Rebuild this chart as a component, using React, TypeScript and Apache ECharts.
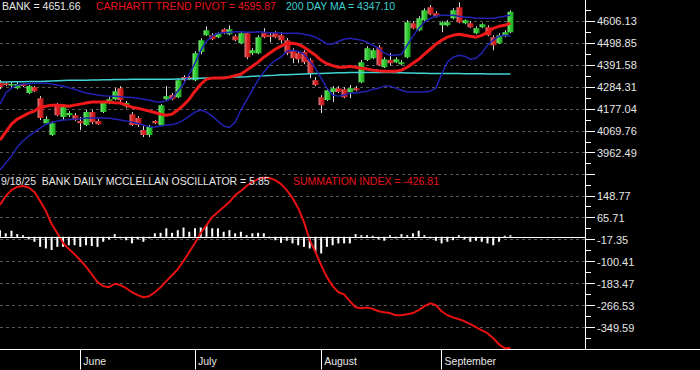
import React, { useEffect, useRef } from 'react';
import * as echarts from 'echarts';

const FONT = '"Liberation Sans", Arial, Helvetica, sans-serif';

// Trading days, 12 May 2025 - 18 Sep 2025
const DATES = [
  '5/12', '5/13', '5/14', '5/15', '5/16', '5/19', '5/20', '5/21', '5/22', '5/23', '5/27', '5/28', '5/29', '5/30',
  '6/2', '6/3', '6/4', '6/5', '6/6', '6/9', '6/10', '6/11', '6/12', '6/13', '6/16', '6/17', '6/18', '6/20', '6/23', '6/24', '6/25', '6/26', '6/27', '6/30',
  '7/1', '7/2', '7/3', '7/7', '7/8', '7/9', '7/10', '7/11', '7/14', '7/15', '7/16', '7/17', '7/18', '7/21', '7/22', '7/23', '7/24', '7/25', '7/28', '7/29', '7/30', '7/31',
  '8/1', '8/4', '8/5', '8/6', '8/7', '8/8', '8/11', '8/12', '8/13', '8/14', '8/15', '8/18', '8/19', '8/20', '8/21', '8/22', '8/25', '8/26', '8/27', '8/28', '8/29',
  '9/2', '9/3', '9/4', '9/5', '9/8', '9/9', '9/10', '9/11', '9/12', '9/15', '9/16', '9/17', '9/18',
];
const EMPTY_SLOTS = 13;
const MONTH_NAMES: Record<string, string> = { '5': 'May', '6': 'June', '7': 'July', '8': 'August', '9': 'September' };

const OPEN = [
  4307, 4302, 4293, 4278, 4298, 4254, 4283, 4229, 4107, 4049,
  4195, 4137, 4146, 4146, 4117, 4098, 4161, 4117, 4161, 4210,
  4224, 4278, 4190, 4151, 4132, 4073, 4049, 4117, 4098, 4224,
  4244, 4234, 4332, 4332, 4317, 4454, 4536, 4536, 4527, 4566,
  4541, 4532, 4497, 4546, 4449, 4449, 4546, 4536, 4546, 4536,
  4512, 4463, 4449, 4454, 4415, 4317, 4234, 4220, 4259, 4278,
  4273, 4259, 4278, 4307, 4415, 4424, 4478, 4380, 4415, 4405,
  4395, 4429, 4595, 4561, 4610, 4673, 4644, 4585, 4585, 4619,
  4673, 4595, 4595, 4546, 4575, 4575, 4527, 4497, 4532, 4551,
];
const CLOSE = [
  4283, 4293, 4298, 4298, 4288, 4288, 4263, 4132, 4127, 4107,
  4146, 4185, 4156, 4122, 4107, 4161, 4112, 4102, 4205, 4224,
  4263, 4219, 4205, 4098, 4098, 4049, 4088, 4107, 4195, 4239,
  4224, 4317, 4317, 4322, 4449, 4512, 4561, 4517, 4546, 4546,
  4566, 4512, 4546, 4429, 4463, 4527, 4527, 4532, 4527, 4512,
  4449, 4424, 4419, 4405, 4351, 4293, 4195, 4268, 4278, 4259,
  4234, 4278, 4268, 4405, 4473, 4463, 4390, 4419, 4400, 4419,
  4405, 4600, 4571, 4619, 4658, 4639, 4629, 4600, 4600, 4658,
  4600, 4610, 4575, 4571, 4590, 4536, 4488, 4536, 4551, 4651.66,
];
const LOW = [
  4273, 4288, 4278, 4273, 4283, 4249, 4259, 4122, 4102, 4044,
  4141, 4122, 4137, 4117, 4073, 4093, 4102, 4098, 4156, 4200,
  4219, 4210, 4180, 4093, 4088, 4039, 4039, 4102, 4093, 4219,
  4219, 4229, 4312, 4317, 4312, 4444, 4532, 4512, 4522, 4541,
  4536, 4507, 4493, 4419, 4439, 4444, 4522, 4502, 4522, 4497,
  4439, 4400, 4400, 4395, 4327, 4288, 4156, 4215, 4210, 4254,
  4229, 4229, 4263, 4302, 4410, 4419, 4385, 4376, 4390, 4400,
  4390, 4424, 4566, 4556, 4605, 4634, 4624, 4551, 4580, 4614,
  4595, 4590, 4571, 4541, 4571, 4532, 4463, 4493, 4527, 4546,
];
const HIGH = [
  4317, 4307, 4312, 4307, 4302, 4293, 4288, 4239, 4141, 4117,
  4205, 4195, 4166, 4156, 4137, 4171, 4171, 4127, 4215, 4234,
  4278, 4288, 4215, 4161, 4141, 4093, 4098, 4122, 4200, 4288,
  4254, 4327, 4341, 4336, 4458, 4522, 4580, 4546, 4551, 4571,
  4585, 4541, 4556, 4551, 4473, 4536, 4571, 4551, 4556, 4551,
  4522, 4473, 4458, 4463, 4424, 4332, 4244, 4278, 4288, 4288,
  4283, 4293, 4288, 4415, 4483, 4473, 4488, 4429, 4449, 4429,
  4415, 4610, 4605, 4629, 4668, 4683, 4653, 4605, 4610, 4668,
  4697, 4614, 4605, 4580, 4595, 4585, 4536, 4546, 4561, 4658,
];
const TREND_PIVOT = [
  4024, 4063, 4102, 4127, 4141, 4156, 4166, 4185, 4190, 4195,
  4195, 4193, 4190, 4195, 4200, 4205, 4210, 4210, 4210, 4210,
  4207, 4205, 4195, 4185, 4180, 4173, 4166, 4159, 4151, 4146,
  4151, 4171, 4195, 4224, 4263, 4297, 4322, 4327, 4327, 4327,
  4332, 4339, 4346, 4366, 4385, 4405, 4429, 4448, 4468, 4483,
  4495, 4497, 4492, 4478, 4458, 4439, 4414, 4397, 4388, 4380,
  4380, 4385, 4380, 4375, 4371, 4366, 4363, 4361, 4361, 4361,
  4366, 4380, 4400, 4419, 4444, 4468, 4492, 4512, 4527, 4536,
  4541, 4536, 4531, 4527, 4536, 4551, 4570, 4580, 4585, 4595.87,
];
const UPPER_BAND = [
  4200, 4254, 4278, 4293, 4298, 4300, 4302, 4302, 4302, 4298,
  4293, 4288, 4280, 4273, 4263, 4254, 4249, 4244, 4241, 4239,
  4239, 4236, 4234, 4232, 4229, 4224, 4220, 4212, 4210, 4215,
  4229, 4263, 4298, 4346, 4400, 4463, 4507, 4532, 4546, 4549,
  4551, 4553, 4553, 4551, 4551, 4553, 4551, 4549, 4549, 4546,
  4546, 4546, 4546, 4541, 4536, 4527, 4512, 4493, 4493, 4507,
  4517, 4522, 4517, 4512, 4502, 4488, 4473, 4449, 4439, 4439,
  4444, 4488, 4532, 4570, 4600, 4619, 4629, 4634, 4634, 4634,
  4629, 4624, 4624, 4619, 4619, 4619, 4619, 4624, 4629, 4634,
];
const LOWER_BAND = [
  3878, 3912, 3946, 3990, 4020, 4044, 4063, 4083, 4102, 4110,
  4117, 4122, 4124, 4127, 4129, 4132, 4132, 4133, 4132, 4131,
  4127, 4122, 4117, 4112, 4105, 4098, 4090, 4088, 4093, 4098,
  4100, 4107, 4122, 4141, 4161, 4171, 4161, 4141, 4117, 4093,
  4086, 4112, 4171, 4219, 4268, 4317, 4356, 4390, 4414, 4429,
  4458, 4463, 4458, 4444, 4410, 4375, 4327, 4278, 4244, 4239,
  4244, 4254, 4254, 4259, 4263, 4273, 4278, 4288, 4288, 4278,
  4268, 4259, 4259, 4259, 4259, 4263, 4278, 4346, 4405, 4429,
  4439, 4434, 4419, 4424, 4449, 4488, 4512, 4532, 4536, 4532,
];
const MA200 = [
  4308, 4308, 4309, 4309, 4309, 4310, 4310, 4311, 4312, 4313,
  4314, 4315, 4316, 4316, 4317, 4317, 4318, 4318, 4319, 4319,
  4320, 4320, 4320, 4321, 4321, 4321, 4322, 4322, 4322, 4322,
  4322, 4323, 4323, 4324, 4325, 4326, 4327, 4328, 4329, 4330,
  4331, 4332, 4333, 4334, 4336, 4337, 4338, 4340, 4341, 4343,
  4344, 4345, 4346, 4347, 4348, 4349, 4350, 4351, 4352, 4353,
  4353, 4354, 4354, 4355, 4355, 4355, 4355, 4354, 4354, 4353,
  4353, 4352, 4352, 4351, 4351, 4350, 4350, 4350, 4349, 4349,
  4349, 4348, 4348, 4348, 4348, 4347.5, 4347.4, 4347.3, 4347.2, 4347.1,
];
const OSCILLATOR = [
  25, 13, 23, 10, 6, -10, -19, -38, -44, -50,
  -38, -38, -32, -32, -38, -32, -35, -38, -19, -10,
  10, -6, -13, -25, -10, -19, -6, 13, 15, 32,
  15, 25, 35, 19, 32, 35, 44, 32, 32, 19,
  25, 13, 19, 6, 13, 15, 13, -6, -13, -23,
  -15, -25, -32, -38, -44, -57, -63, -38, -32, -25,
  -25, -25, 10, 6, 6, 4, -10, -15, 6, -6,
  10, 6, 13, 23, 6, -6, -15, -25, -19, -13,
  6, -10, -19, -15, -19, -25, -32, -19, 4, 5.85,
];
const SUMMATION = [
  114, 148, 170, 182, 186, 180, 163, 129, 91, 42,
  7, -30, -53, -72, -95, -119, -148, -178, -193, -197,
  -184, -189, -201, -216, -227, -235, -231, -216, -197, -174,
  -152, -129, -98, -64, -30, 8, 38, 68, 87, 106,
  125, 151, 167, 186, 201, 212, 218, 216, 208, 193,
  170, 140, 102, 49, -19, -64, -114, -159, -193, -216,
  -224, -250, -273, -277, -274, -279, -288, -292, -295, -303,
  -303, -299, -295, -284, -269, -258, -265, -288, -303, -311,
  -318, -326, -337, -348, -360, -371, -390, -413, -428, -426.81,
];

// Right-hand axis tick labels (bottom to top)
const TOP_TICK_LABELS = ['3962.49', '4069.76', '4177.04', '4284.31', '4391.58', '4498.85', '4606.13'];
const BOTTOM_TICK_LABELS = ['-349.59', '-266.53', '-183.47', '-100.41', '-17.35', '65.71', '148.77'];
const TOP_STEP = 107.2725;
const TOP_BASE = 3855.218;
const BOTTOM_STEP = 83.06;
const BOTTOM_BASE = -432.65;
const STEPS = 8;

const HEADERS = {
  bank: 'BANK = 4651.66',
  pivot: 'CARHARTT TREND PIVOT = 4595.87',
  ma: '200 DAY MA = 4347.10',
  osc: '9/18/25  BANK DAILY MCCLELLAN OSCILLATOR = 5.85',
  sum: 'SUMMATION INDEX = -426.81',
};

function buildOption() {
  const categories = DATES.concat(Array.from({ length: EMPTY_SLOTS }, (_, k) => `+${k + 1}`));
  const monthOf = (s: string) => s.split('/')[0];
  const isMonthStart = (idx: number) =>
    idx > 0 && idx < DATES.length && monthOf(DATES[idx]) !== monthOf(DATES[idx - 1]);

  const candleData = DATES.map((_, i) => [i, OPEN[i], CLOSE[i], LOW[i], HIGH[i]]);

  const greenFill = new echarts.graphic.LinearGradient(0, 0, 1, 0, [
    { offset: 0, color: '#7be87b' },
    { offset: 0.45, color: '#35cf35' },
    { offset: 1, color: '#1c9f1c' },
  ]);
  const redFill = new echarts.graphic.LinearGradient(0, 0, 1, 0, [
    { offset: 0, color: '#e07a80' },
    { offset: 0.45, color: '#dc2626' },
    { offset: 1, color: '#b81414' },
  ]);

  const axisText = { color: '#e6e6e6', fontSize: 11, fontFamily: FONT };
  const splitLine = { show: true, lineStyle: { color: '#585858', type: [3, 3] as any, width: 1 } };

  const visibleY = (gridIndex: number, step: number, labels: string[]) => ({
    type: 'value',
    gridIndex,
    position: 'right',
    min: 0,
    max: step * STEPS,
    interval: step,
    axisLine: { show: true, lineStyle: { color: '#ffffff', width: 1 } },
    axisTick: { show: true, length: 10, lineStyle: { color: '#ffffff', width: 1 } },
    minorTick: { show: true, splitNumber: 2, length: 6, lineStyle: { color: '#ffffff', width: 1 } },
    minorSplitLine: { show: false },
    axisLabel: {
      ...axisText,
      margin: 12,
      showMinLabel: true,
      showMaxLabel: true,
      formatter: (v: number) => {
        const k = Math.round(v / step);
        return k >= 1 && k <= labels.length ? labels[k - 1] : '';
      },
    },
    splitLine,
  });

  const titleStyle = (color: string) => ({
    color,
    fontSize: 10.5,
    fontWeight: 'normal' as const,
    fontFamily: FONT,
  });

  return {
    animation: false,
    backgroundColor: '#000000',
    title: [
      { text: HEADERS.bank, left: 2, top: 0, padding: 0, textStyle: titleStyle('#e8e8e8') },
      { text: HEADERS.pivot, left: 96, top: 0, padding: 0, textStyle: titleStyle('#e8141c') },
      { text: HEADERS.ma, left: 286, top: 0, padding: 0, textStyle: titleStyle('#3fd0d0') },
      { text: HEADERS.osc, left: 1, top: 175, padding: 0, textStyle: titleStyle('#e8e8e8') },
      { text: HEADERS.sum, left: 293, top: 175, padding: 0, textStyle: titleStyle('#e8141c') },
    ],
    grid: [
      { left: 0, right: 115, top: -1, height: 175.7, outerBoundsMode: 'none', containLabel: false },
      { left: 0, right: 115, top: 173.8, height: 175.7, outerBoundsMode: 'none', containLabel: false },
    ],
    xAxis: [
      {
        type: 'category',
        gridIndex: 0,
        data: categories,
        boundaryGap: false,
        show: false,
      },
      {
        type: 'category',
        gridIndex: 1,
        data: categories,
        boundaryGap: false,
        axisLine: { show: true, onZero: false, lineStyle: { color: '#ffffff', width: 1 } },
        axisTick: {
          show: true,
          length: 20,
          interval: (idx: number) => isMonthStart(idx),
          lineStyle: { color: '#ffffff', width: 1 },
        },
        axisLabel: {
          color: '#e6e6e6',
          fontSize: 10.5,
          fontFamily: FONT,
          align: 'left',
          margin: 6,
          padding: [0, 0, 0, 3],
          interval: (idx: number) => isMonthStart(idx),
          formatter: (v: string) => MONTH_NAMES[monthOf(v)] || '',
        },
        splitLine: { show: false },
      },
    ],
    yAxis: [
      visibleY(0, TOP_STEP, TOP_TICK_LABELS),
      { type: 'value', gridIndex: 0, min: TOP_BASE, max: TOP_BASE + TOP_STEP * STEPS, show: false },
      visibleY(1, BOTTOM_STEP, BOTTOM_TICK_LABELS),
      { type: 'value', gridIndex: 1, min: BOTTOM_BASE, max: BOTTOM_BASE + BOTTOM_STEP * STEPS, show: false },
      { type: 'value', gridIndex: 1, min: -426.28, max: 238.2, show: false },
    ],
    series: [
      {
        name: 'BANK',
        type: 'custom',
        xAxisIndex: 0,
        yAxisIndex: 1,
        clip: true,
        data: candleData,
        encode: { x: 0, y: [1, 2, 3, 4] },
        renderItem: (_params: any, api: any) => {
          const i = api.value(0);
          const o = api.value(1);
          const c = api.value(2);
          const l = api.value(3);
          const h = api.value(4);
          const pO = api.coord([i, o]);
          const x = Math.round(pO[0]) + 0.5;
          const yO = pO[1];
          const yC = api.coord([i, c])[1];
          const yL = api.coord([i, l])[1];
          const yH = api.coord([i, h])[1];
          const up = c >= o;
          const w = 6;
          return {
            type: 'group',
            children: [
              {
                type: 'line',
                shape: { x1: x, y1: yH, x2: x, y2: yL },
                style: { stroke: '#dcdcdc', lineWidth: 1 },
              },
              {
                type: 'rect',
                shape: { x: x - w / 2, y: Math.min(yO, yC), width: w, height: Math.max(1.5, Math.abs(yO - yC)) },
                style: { fill: up ? greenFill : redFill },
              },
            ],
          };
        },
      },
      {
        name: '200 DAY MA',
        type: 'line',
        xAxisIndex: 0,
        yAxisIndex: 1,
        data: MA200,
        symbol: 'none',
        lineStyle: { color: '#40d4d4', width: 1.5 },
      },
      {
        name: 'Upper band',
        type: 'line',
        xAxisIndex: 0,
        yAxisIndex: 1,
        data: UPPER_BAND,
        symbol: 'none',
        lineStyle: { color: '#2222b4', width: 1.5 },
      },
      {
        name: 'Lower band',
        type: 'line',
        xAxisIndex: 0,
        yAxisIndex: 1,
        data: LOWER_BAND,
        symbol: 'none',
        lineStyle: { color: '#2222b4', width: 1.5 },
      },
      {
        name: 'Carhartt trend pivot',
        type: 'line',
        xAxisIndex: 0,
        yAxisIndex: 1,
        data: TREND_PIVOT,
        symbol: 'none',
        lineStyle: { color: '#f01818', width: 3 },
      },
      {
        name: 'McClellan oscillator',
        type: 'bar',
        xAxisIndex: 1,
        yAxisIndex: 4,
        data: OSCILLATOR,
        barWidth: 2,
        itemStyle: { color: '#ffffff' },
        markLine: {
          silent: true,
          symbol: ['none', 'none'],
          label: { show: false },
          lineStyle: { color: '#ffffff', width: 1, type: 'solid' },
          data: [{ yAxis: 0 }],
        },
      },
      {
        name: 'Summation index',
        type: 'line',
        xAxisIndex: 1,
        yAxisIndex: 3,
        data: SUMMATION,
        symbol: 'none',
        lineStyle: { color: '#e81010', width: 2 },
      },
    ],
    graphic: [
      {
        type: 'line',
        shape: { x1: 585, y1: 349.5, x2: 700, y2: 349.5 },
        style: { stroke: '#ffffff', lineWidth: 1 },
        silent: true,
      },
    ],
  };
}

export default function App() {
  const ref = useRef<HTMLDivElement>(null);
  useEffect(() => {
    if (!ref.current) return;
    const chart = echarts.init(ref.current, null, { renderer: 'svg', width: 700, height: 370 });
    chart.setOption(buildOption() as any);
    return () => chart.dispose();
  }, []);
  return (
    <div
      ref={ref}
      style={{ position: 'fixed', left: 0, top: 0, width: 700, height: 370, background: '#000' }}
    />
  );
}
